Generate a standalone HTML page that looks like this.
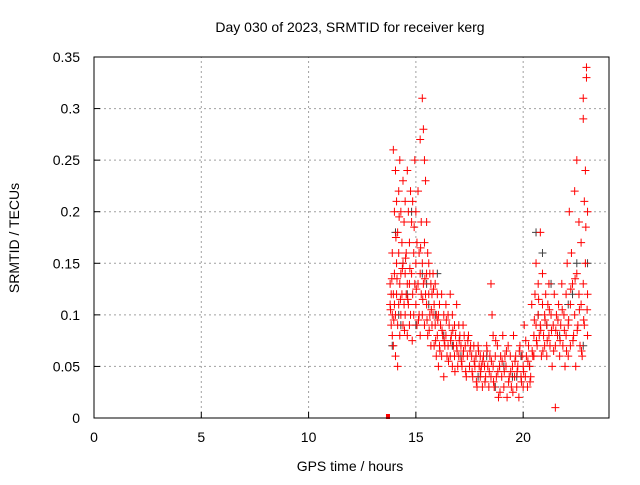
<!DOCTYPE html>
<html><head><meta charset="utf-8"><style>
body{margin:0;background:#fff}
svg text{font-family:"Liberation Sans",sans-serif;font-size:14px;fill:#000}
</style></head><body>
<svg id="chart" width="640" height="480">
<rect x="0" y="0" width="640" height="480" fill="#fff"/>
<g id="grid"></g>
<g id="marks"></g>
<rect x="94" y="57" width="515" height="361" fill="none" stroke="#000"/>
<g id="ticks"></g>
<text x="350" y="32" text-anchor="middle">Day 030 of 2023, SRMTID for receiver kerg</text>
<text x="350" y="471" text-anchor="middle">GPS time / hours</text>
<text x="19" y="238" text-anchor="middle" transform="rotate(-90 19 238)">SRMTID / TECUs</text>
</svg>
<script>
const xTicks=[0,5,10,15,20];
const yTicks=[0,0.05,0.1,0.15,0.2,0.25,0.3,0.35];
const yTickLabels=["0","0.05","0.1","0.15","0.2","0.25","0.3","0.35"];
const redA=[[13.8,0.13],[13.8,0.11],[13.85,0.12],[13.85,0.09],[13.9,0.16],[13.9,0.1],[13.9,0.08],[13.95,0.26],[13.95,0.12],[13.95,0.07],[14.0,0.2],[14.0,0.14],[14.0,0.11],[14.05,0.24],[14.05,0.1],[14.05,0.06],[14.1,0.21],[14.1,0.15],[14.1,0.12],[14.15,0.18],[14.15,0.09],[14.15,0.05],[14.2,0.22],[14.2,0.16],[14.2,0.11],[14.25,0.25],[14.25,0.13],[14.25,0.08],[14.3,0.2],[14.3,0.14],[14.3,0.1],[14.35,0.17],[14.35,0.12],[14.4,0.23],[14.4,0.15],[14.4,0.09],[14.45,0.19],[14.45,0.11],[14.5,0.21],[14.5,0.14],[14.5,0.1],[14.55,0.16],[14.55,0.12],[14.6,0.24],[14.6,0.13],[14.6,0.08],[14.65,0.2],[14.65,0.11],[14.7,0.17],[14.7,0.13],[14.7,0.09],[14.75,0.22],[14.75,0.1],[14.8,0.19],[14.8,0.14],[14.85,0.21],[14.85,0.12],[14.9,0.16],[14.9,0.1],[14.95,0.25],[14.95,0.13]];
const redB=[[15.0,0.2],[15.0,0.15],[15.0,0.11],[15.05,0.17],[15.05,0.09],[15.1,0.22],[15.1,0.13],[15.15,0.16],[15.15,0.1],[15.2,0.27],[15.2,0.14],[15.2,0.08],[15.25,0.19],[15.25,0.12],[15.3,0.31],[15.3,0.15],[15.3,0.1],[15.35,0.28],[15.35,0.13],[15.4,0.25],[15.4,0.17],[15.4,0.09],[15.45,0.23],[15.45,0.12],[15.5,0.19],[15.5,0.14],[15.5,0.11],[15.55,0.16],[15.55,0.08],[15.6,0.15],[15.6,0.12],[15.65,0.14],[15.65,0.1],[15.7,0.13],[15.7,0.07],[15.75,0.12],[15.75,0.09],[15.8,0.14],[15.8,0.1],[15.85,0.11],[15.85,0.07],[15.9,0.13],[15.9,0.09],[15.95,0.1],[15.95,0.06],[16.0,0.12],[16.0,0.08],[16.05,0.1],[16.05,0.05],[16.1,0.11],[16.1,0.07],[16.15,0.09],[16.2,0.12],[16.2,0.06],[16.25,0.08],[16.3,0.1],[16.3,0.04],[16.35,0.07],[16.4,0.11],[16.4,0.08],[16.45,0.06],[16.5,0.1],[16.5,0.07],[16.55,0.09],[16.6,0.12],[16.6,0.06],[16.65,0.08],[16.7,0.1],[16.7,0.05],[16.75,0.07],[16.8,0.09],[16.8,0.06],[16.85,0.08],[16.9,0.11],[16.9,0.07],[16.95,0.05]];
const redC=[[17.0,0.09],[17.0,0.06],[17.05,0.08],[17.1,0.07],[17.15,0.05],[17.2,0.09],[17.2,0.06],[17.25,0.08],[17.3,0.07],[17.35,0.04],[17.4,0.06],[17.45,0.08],[17.5,0.05],[17.55,0.07],[17.6,0.06],[17.65,0.04],[17.7,0.07],[17.75,0.05],[17.8,0.06],[17.85,0.03],[17.9,0.07],[17.95,0.05],[18.0,0.04],[18.0,0.06],[18.05,0.05],[18.1,0.03],[18.15,0.06],[18.2,0.05],[18.25,0.04],[18.3,0.07],[18.35,0.05],[18.4,0.03],[18.45,0.06],[18.5,0.13],[18.5,0.04],[18.55,0.1],[18.6,0.05],[18.6,0.08],[18.65,0.03],[18.7,0.06],[18.75,0.04],[18.8,0.07],[18.85,0.02],[18.9,0.05],[18.95,0.06],[19.0,0.04],[19.05,0.08],[19.1,0.03],[19.15,0.06],[19.2,0.05],[19.25,0.02],[19.3,0.07],[19.35,0.04],[19.4,0.06],[19.45,0.03],[19.5,0.05],[19.55,0.08],[19.6,0.04],[19.65,0.06],[19.7,0.03],[19.75,0.05],[19.8,0.02],[19.85,0.07],[19.9,0.04],[19.95,0.06],[20.0,0.03],[20.0,0.05],[20.05,0.09],[20.1,0.04],[20.15,0.06],[20.2,0.03],[20.25,0.07],[20.3,0.05],[20.35,0.04],[20.4,0.11],[20.45,0.06]];
const redD=[[20.5,0.08],[20.5,0.06],[20.55,0.12],[20.6,0.09],[20.6,0.15],[20.65,0.07],[20.7,0.1],[20.7,0.13],[20.75,0.08],[20.8,0.18],[20.8,0.09],[20.85,0.06],[20.9,0.11],[20.9,0.14],[20.95,0.08],[21.0,0.1],[21.0,0.07],[21.05,0.12],[21.1,0.09],[21.1,0.06],[21.15,0.11],[21.2,0.08],[21.2,0.13],[21.25,0.07],[21.3,0.1],[21.35,0.05],[21.4,0.09],[21.45,0.12],[21.5,0.07],[21.5,0.01],[21.55,0.1],[21.6,0.08],[21.65,0.11],[21.7,0.06],[21.75,0.09],[21.8,0.13],[21.85,0.07],[21.9,0.1],[21.95,0.05],[22.0,0.12],[22.0,0.08],[22.05,0.15],[22.1,0.09],[22.1,0.06],[22.15,0.2],[22.2,0.11],[22.2,0.07],[22.25,0.16],[22.3,0.13],[22.35,0.08],[22.4,0.22],[22.4,0.1],[22.45,0.05],[22.5,0.14],[22.5,0.25],[22.55,0.09],[22.6,0.12],[22.6,0.19],[22.65,0.07],[22.7,0.17],[22.7,0.11],[22.75,0.06],[22.8,0.29],[22.8,0.13],[22.8,0.31],[22.85,0.21],[22.85,0.09],[22.9,0.24],[22.9,0.15],[22.95,0.34],[22.95,0.33],[23.0,0.2],[23.0,0.12],[23.0,0.08]];
const redE=[[13.82,0.105],[13.88,0.135],[13.97,0.095],[14.07,0.175],[14.12,0.135],[14.22,0.195],[14.28,0.115],[14.37,0.145],[14.47,0.085],[14.52,0.155],[14.62,0.115],[14.72,0.145],[14.83,0.075],[14.92,0.185],[15.02,0.125],[15.12,0.095],[15.22,0.165],[15.32,0.115],[15.42,0.135],[15.52,0.095],[15.62,0.085],[15.72,0.105],[15.82,0.125],[15.92,0.075],[16.02,0.095],[16.12,0.065],[16.22,0.085],[16.32,0.075],[16.42,0.095],[16.52,0.055],[16.62,0.075],[16.72,0.085],[16.82,0.045],[16.92,0.065],[17.02,0.075],[17.12,0.055],[17.22,0.065],[17.32,0.045],[17.42,0.075],[17.52,0.065],[17.62,0.045],[17.72,0.055],[17.82,0.035],[17.92,0.065],[18.02,0.045],[18.12,0.055],[18.22,0.035],[18.32,0.065],[18.42,0.045],[18.52,0.055],[18.62,0.035],[18.72,0.075],[18.82,0.045],[18.92,0.025],[19.02,0.055],[19.12,0.045],[19.22,0.065],[19.32,0.035],[19.42,0.045],[19.52,0.025],[19.62,0.055],[19.72,0.045],[19.82,0.065],[19.92,0.035],[20.02,0.045],[20.12,0.075],[20.22,0.055],[20.32,0.035],[20.42,0.065],[20.52,0.095],[20.62,0.075],[20.72,0.115],[20.82,0.085],[20.92,0.065],[21.02,0.095],[21.12,0.075],[21.22,0.105],[21.32,0.085],[21.42,0.065],[21.52,0.085],[21.62,0.095],[21.72,0.075],[21.82,0.105],[21.92,0.085],[22.02,0.065],[22.12,0.095],[22.22,0.125],[22.32,0.075],[22.42,0.135],[22.52,0.085],[22.62,0.105],[22.72,0.065],[22.82,0.095],[22.92,0.185],[22.98,0.105]];
const blackP=[[13.9,0.07],[14.05,0.18],[14.2,0.1],[14.4,0.15],[14.6,0.12],[14.8,0.2],[15.0,0.09],[15.3,0.14],[15.6,0.11],[15.9,0.1],[16.3,0.08],[16.7,0.07],[17.1,0.06],[17.5,0.05],[17.9,0.04],[18.3,0.06],[18.7,0.03],[19.1,0.05],[19.5,0.04],[19.9,0.06],[20.3,0.05],[20.6,0.18],[20.9,0.16],[21.1,0.09],[21.3,0.13],[21.7,0.08],[22.1,0.11],[22.5,0.15],[22.8,0.07],[23.0,0.15],[14.3,0.09],[15.5,0.13],[16.0,0.14],[17.8,0.06],[18.9,0.05],[19.7,0.04],[20.7,0.1],[22.3,0.12]];
const X0=94,X1=609,Y0=418,Y1=57;
const sx=v=>X0+(v/24)*(X1-X0);
const sy=v=>Y0-(v/0.35)*(Y0-Y1);
const NS="http://www.w3.org/2000/svg";
const grid=document.getElementById('grid'),ticks=document.getElementById('ticks'),marks=document.getElementById('marks');
function mk(tag,attrs,parent){const e=document.createElementNS(NS,tag);for(const k in attrs)e.setAttribute(k,attrs[k]);parent.appendChild(e);return e;}
xTicks.forEach(t=>{const x=sx(t);
 if(t>0){const g=mk('line',{x1:x,y1:Y0,x2:x,y2:Y1,stroke:'#a0a0a0','stroke-dasharray':'2,3'},grid);
 
 }
 const l=mk('line',{x1:x,y1:Y0,x2:x,y2:Y0-6,stroke:'#000'},ticks);
 
 
 const tx=mk('text',{x:x,y:Y0+24,'text-anchor':'middle'},ticks);tx.textContent=t;
 
 
});
yTicks.forEach((t,i)=>{const y=sy(t);
 if(i>0&&i<yTicks.length-1){const g=mk('line',{x1:X0,y1:y,x2:X1,y2:y,stroke:'#a0a0a0','stroke-dasharray':'2,3'},grid);
 
 }
 const l=mk('line',{x1:X0,y1:y,x2:X0+6,y2:y,stroke:'#000'},ticks);
 
 
 const tx=mk('text',{x:X0-14,y:y+5,'text-anchor':'end'},ticks);tx.textContent=yTickLabels[i];
 
 
});
function plus(t,v,color,name){const x=sx(t),y=sy(v);
 const p=mk('path',{d:`M${x-4},${y}h8M${x},${y-4}v8`,stroke:color,'stroke-width':1,fill:'none'},marks);
 
 
}
blackP.forEach(p=>plus(p[0],p[1],'#404040','black-point'));
[redA,redB,redC,redD,redE].forEach(arr=>arr.forEach(p=>plus(p[0],p[1],'#ff0000','red-point')));
const sq=mk('rect',{x:sx(13.7)-2,y:sy(0)-4,width:4,height:5,fill:'#ff0000'},marks);


</script>
</body></html>
